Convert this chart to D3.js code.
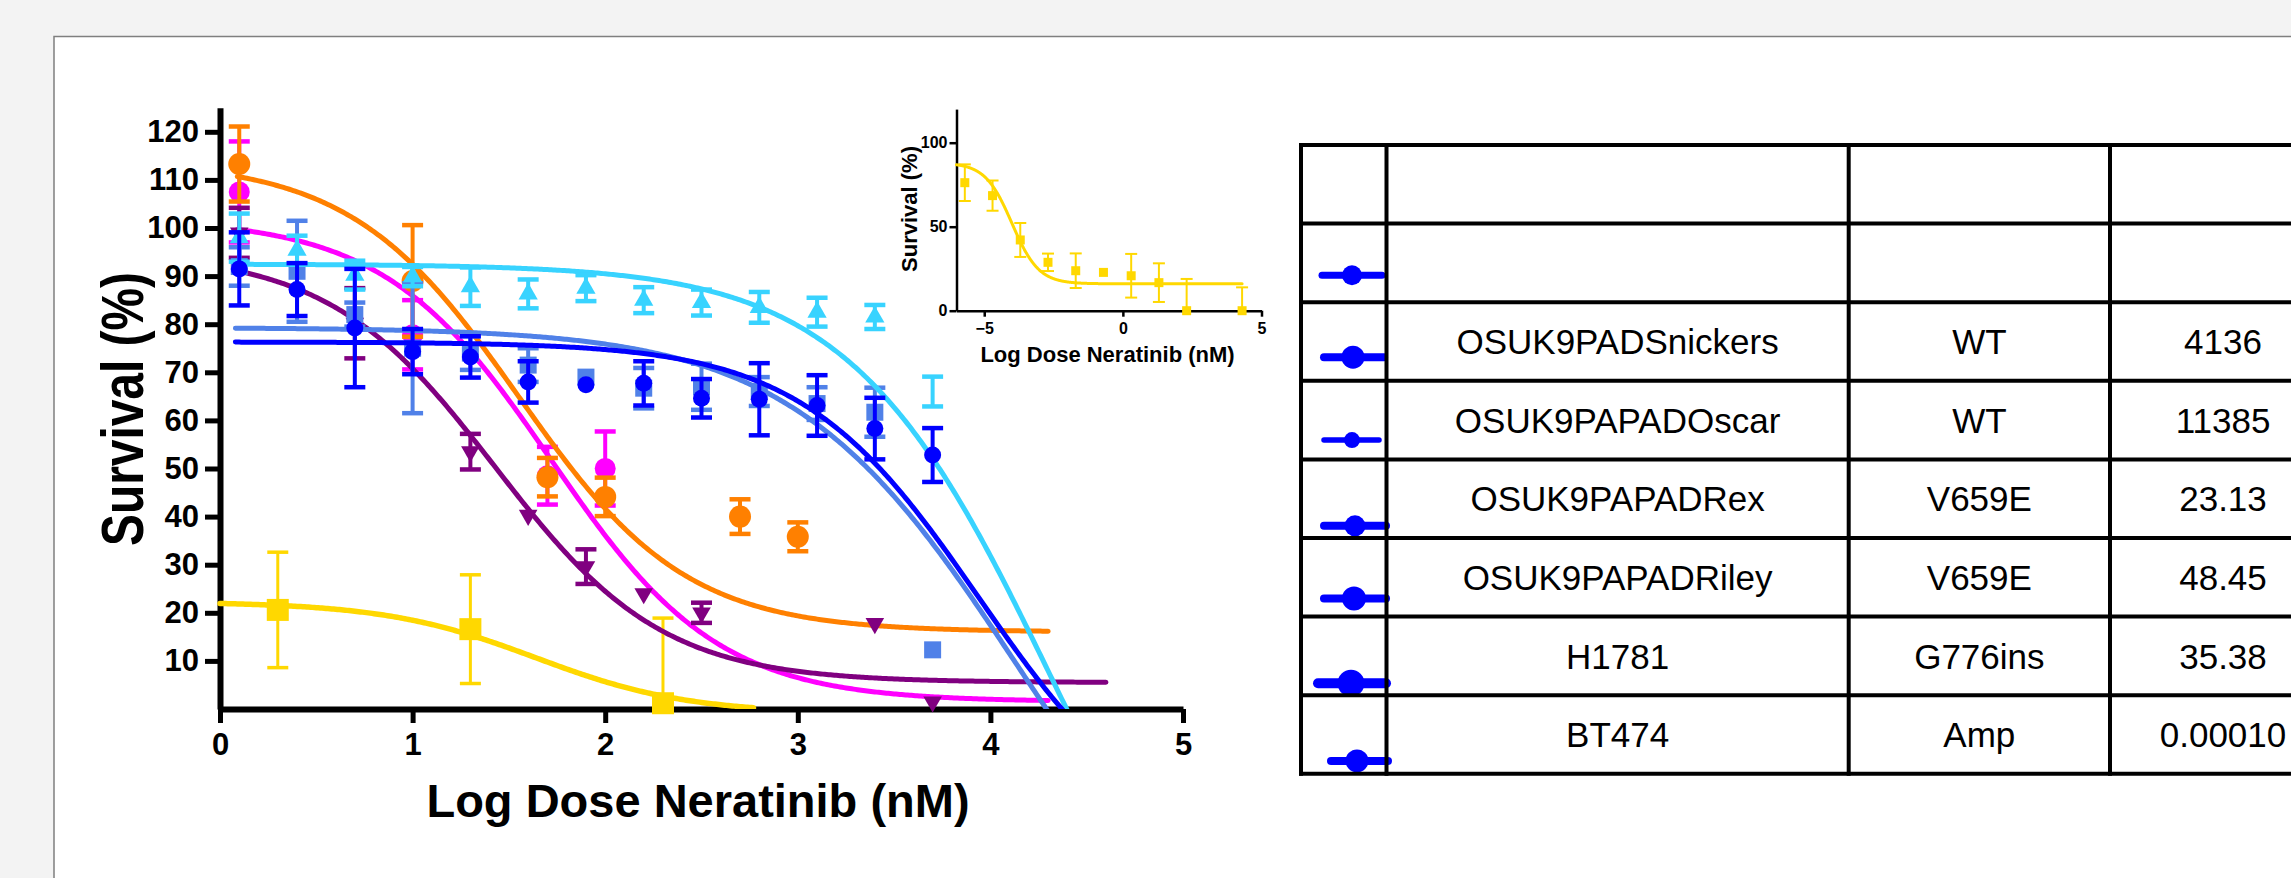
<!DOCTYPE html>
<html>
<head>
<meta charset="utf-8">
<script src="https://cdn.jsdelivr.net/npm/d3@7"></script>
<style>
html, body { margin: 0; padding: 0; background: #f3f3f3; overflow: hidden; }
svg { display: block; }
</style>
</head>
<body>
<div id="chart"></div>
<script>
// ---------------- data ----------------
// main panel, log dose (nM) / survival (%) / error
var orangeDose = [0.1, 1.0, 1.7, 2.0, 2.7, 3.0];
var orangeMean = [113.3, 89, 48.2, 44.1, 40.0, 35.8];
var orangeErr  = [7.8, 11.6, 4, 4, 3.6, 3];

var magentaDose = [0.1, 1.0, 1.7, 2.0];
var magentaMean = [107.5, 77.8, 48.5, 50];
var magentaErr  = [10.5, 7.2, 6, 7.7];

var purpleDose = [0.1, 0.7, 1.3, 1.6, 1.9, 2.2, 2.5, 3.4, 3.7];
var purpleMean = [99, 80.2, 53.5, 40.3, 29.6, 24, 20, 17.8, 1.5];
var purpleErr  = [5.2, 7.3, 3.7, 0, 3.6, 0, 2.1, 0, 0];

var cyanDose = [0.1, 0.4, 0.7, 1.0, 1.3, 1.6, 1.9, 2.2, 2.5, 2.8, 3.1, 3.4, 3.7];
var cyanMean = [98, 95.4, 90.2, 89.9, 87.8, 86.3, 87.5, 85, 84.5, 83.5, 82.5, 81.5, 66];
var cyanErr  = [5, 3, 3, 2, 4, 3, 2.7, 2.7, 2.7, 3.2, 3, 2.5, 3.1];

var cornflowerDose = [0.1, 0.4, 0.7, 1.0, 1.3, 1.6, 1.9, 2.2, 2.5, 2.8, 3.1, 3.4, 3.7];
var cornflowerMean = [92, 91, 82, 75, 74, 71.5, 69, 66.7, 67, 66, 63.5, 61.7, 12.3];
var cornflowerErr  = [4, 10.5, 2.5, 13.5, 3.5, 3.5, 0, 4.2, 4.8, 3, 3.4, 5.1, 0];

var blueDose = [0.1, 0.4, 0.7, 1.0, 1.3, 1.6, 1.9, 2.2, 2.5, 2.8, 3.1, 3.4, 3.7];
var blueMean = [91.5, 87.2, 79.2, 74.3, 73.2, 68, 67.4, 67.7, 64.6, 64.4, 63.1, 58.3, 52.8];
var blueErr  = [7.6, 5.5, 12.3, 4.7, 4.3, 4.3, 0, 4.6, 4, 7.5, 6.3, 6.4, 5.6];

var yellowDose = [0.3, 1.3, 2.3];
var yellowMean = [20.6, 16.6, 1.2];
var yellowErr  = [12, 11.3, 17.7];

// fitted curves: top, bottom, logIC50, hill, x from, x to
var orangeFit     = [114, 16, 1.55, 1.0, 0.09, 4.3];
var magentaFit    = [102, 1.5, 1.72, 1.0, 0.09, 4.3];
var purpleFit     = [95, 5.5, 1.43, 1.0, 0.1, 4.6];
var cyanFit       = [92.5, -80, 4.32, 0.83, 0.08, 4.6];
var cornflowerFit = [79.3, -60, 4.13, 0.75, 0.08, 4.6];
var blueFit       = [76.3, -30, 3.94, 0.94, 0.08, 4.6];
var yellowFit     = [22.3, -1, 1.64, 1.1, 0, 2.77];

var mainXTicks = [0, 1, 2, 3, 4, 5];
var mainYTicks = [10, 20, 30, 40, 50, 60, 70, 80, 90, 100, 110, 120];

// inset (BT474)
var insetDose = [-5.7, -4.7, -3.7, -2.7, -1.7, -0.7, 0.3, 1.3, 2.3, 4.3];
var insetMean = [76.2, 68.5, 42.1, 28.8, 23.8, 22.8, 20.8, 16.7, 0, 0];
var insetErr  = [10.9, 9, 10.1, 5.2, 10.3, 0, 13, 11.5, 18.9, 13.9];
var insetFit  = [88, 16, -4.0, 0.9, -6, 4.3];
var insetXTicks = [-5, 0, 5];
var insetYTicks = [0, 50, 100];

// table
var cellLine = ["", "", "OSUK9PADSnickers", "OSUK9PAPADOscar", "OSUK9PAPADRex", "OSUK9PAPADRiley", "H1781", "BT474"];
var mutation = ["", "", "WT", "WT", "V659E", "V659E", "G776ins", "Amp"];
var ic50     = ["", "", "4136", "11385", "23.13", "48.45", "35.38", "0.00010"];

// ---------------- drawing ----------------
var W = 2291, H = 878;
var boldFont = "'Liberation Sans', Arial, sans-serif";

var svg = d3.select("#chart").append("svg")
    .attr("width", W)
    .attr("height", H);

// page + frame
svg.append("rect").attr("width", W).attr("height", H).attr("fill", "#f3f3f3");
svg.append("rect")
    .attr("x", 54).attr("y", 36.5)
    .attr("width", W).attr("height", H)
    .attr("fill", "#ffffff")
    .attr("stroke", "#7f7f7f")
    .attr("stroke-width", 1.5);

function fourPL(p, v) {
    return p[1] + (p[0] - p[1]) / (1 + Math.pow(10, (v - p[2]) * p[3]));
}

function curvePoints(p) {
    var pts = d3.range(p[4], p[5], 0.01).map(v => [v, fourPL(p, v)]);
    pts.push([p[5], fourPL(p, p[5])]);
    return pts;
}

function styleAxis(g, lw, tickW, fontSize) {
    g.select(".domain").attr("stroke", "#000").attr("stroke-width", lw);
    g.selectAll(".tick line").attr("stroke", "#000").attr("stroke-width", tickW);
    g.selectAll(".tick text")
        .attr("fill", "#000")
        .style("font-family", boldFont)
        .style("font-weight", "bold")
        .style("font-size", fontSize + "px");
}

// error bars + markers + curve for one series
function drawSeries(root, xs, ys, clipId, s) {
    var line = d3.line().x(d => xs(d[0])).y(d => ys(d[1]));

    root.append("path")
        .datum(curvePoints(s.fit))
        .attr("clip-path", "url(#" + clipId + ")")
        .attr("d", line)
        .attr("fill", "none")
        .attr("stroke", s.color)
        .attr("stroke-width", s.curveW)
        .attr("stroke-linecap", "round");

    var pts = s.dose.map((d, i) => ({x: d, m: s.mean[i], e: s.err[i], i: i}));

    var bars = root.append("g")
        .attr("stroke", s.color)
        .attr("fill", "none");
    pts.filter(d => d.e > 0).forEach(function(d) {
        var lo = Math.max(0, d.m - d.e), hi = d.m + d.e;
        var cx = xs(d.x);
        bars.append("line")
            .attr("x1", cx).attr("x2", cx)
            .attr("y1", ys(lo)).attr("y2", ys(hi))
            .attr("stroke-width", s.barW);
        bars.append("line")
            .attr("x1", cx - s.capW / 2).attr("x2", cx + s.capW / 2)
            .attr("y1", ys(hi)).attr("y2", ys(hi))
            .attr("stroke-width", s.capT);
        if (d.m - d.e >= 0) {
            bars.append("line")
                .attr("x1", cx - s.capW / 2).attr("x2", cx + s.capW / 2)
                .attr("y1", ys(lo)).attr("y2", ys(lo))
                .attr("stroke-width", s.capT);
        }
    });

    // some symbols are not shown in the original figure (bar only)
    var hidden = s.hideMarker || [];
    var sym = d3.symbol().type(s.shape).size(s.size);
    root.append("g")
        .attr("fill", s.color)
        .selectAll("path")
        .data(pts.filter(d => hidden.indexOf(d.i) < 0))
        .join("path")
        .attr("d", sym)
        .attr("transform", d => "translate(" + xs(d.x) + "," + ys(d.m) + ")" + (s.flip ? " rotate(180)" : ""));
}

/////////////////////// main panel ///////////////////////
var x = d3.scaleLinear().domain([0, 5]).range([220, 1183]);
var y = d3.scaleLinear().domain([0, 125]).range([709, 107.75]);

svg.append("clipPath").attr("id", "mainClip")
    .append("rect")
    .attr("x", 0).attr("y", y(125))
    .attr("width", 1300).attr("height", y(0) - y(125));

var gy = svg.append("g")
    .attr("transform", "translate(" + x(0) + ",0)")
    .call(d3.axisLeft(y).tickValues(mainYTicks).tickSize(15).tickSizeOuter(0).tickPadding(6));
styleAxis(gy, 6, 5, 31);

var gx = svg.append("g")
    .attr("transform", "translate(0," + y(0) + ")")
    .call(d3.axisBottom(x).tickValues(mainXTicks).tickSize(14).tickSizeOuter(0).tickPadding(10).tickFormat(d3.format("d")));
styleAxis(gx, 6, 5, 31);

svg.append("text")
    .attr("x", 698).attr("y", 817)
    .attr("text-anchor", "middle")
    .style("font-family", boldFont)
    .style("font-weight", "bold")
    .style("font-size", "47px")
    .text("Log Dose Neratinib (nM)");

svg.append("text")
    .attr("transform", "translate(143,409) rotate(-90)")
    .attr("text-anchor", "middle")
    .attr("textLength", 274)
    .attr("lengthAdjust", "spacingAndGlyphs")
    .style("font-family", boldFont)
    .style("font-weight", "bold")
    .style("font-size", "59px")
    .text("Survival (%)");

var mainSeries = [
    {dose: yellowDose, mean: yellowMean, err: yellowErr, fit: yellowFit, color: "#FFD800",
     shape: d3.symbolSquare, size: 22 * 22, curveW: 5.5, barW: 3, capW: 21, capT: 3.5},
    {dose: magentaDose, mean: magentaMean, err: magentaErr, fit: magentaFit, color: "#FF00FF",
     shape: d3.symbolCircle, size: Math.PI * 10.5 * 10.5, curveW: 5, barW: 4, capW: 21, capT: 4.5},
    {dose: orangeDose, mean: orangeMean, err: orangeErr, fit: orangeFit, color: "#FF8000",
     shape: d3.symbolCircle, size: Math.PI * 11 * 11, curveW: 5, barW: 4, capW: 21, capT: 4.5},
    {dose: purpleDose, mean: purpleMean, err: purpleErr, fit: purpleFit, color: "#800080",
     shape: d3.symbolTriangle, flip: true, size: 150, curveW: 5, barW: 4, capW: 21, capT: 4.5},
    {dose: cornflowerDose, mean: cornflowerMean, err: cornflowerErr, fit: cornflowerFit, color: "#5081E8",
     shape: d3.symbolSquare, size: 17 * 17, curveW: 5, barW: 4, capW: 21, capT: 4.5},
    {dose: cyanDose, mean: cyanMean, err: cyanErr, fit: cyanFit, color: "#38D3FF",
     shape: d3.symbolTriangle, size: 160, curveW: 5, barW: 4, capW: 21, capT: 4.5, hideMarker: [12]},
    {dose: blueDose, mean: blueMean, err: blueErr, fit: blueFit, color: "#0000FF",
     shape: d3.symbolCircle, size: Math.PI * 8.5 * 8.5, curveW: 5, barW: 4, capW: 21, capT: 4.5}
];
var mainG = svg.append("g");
mainSeries.forEach(s => drawSeries(mainG, x, y, "mainClip", s));

/////////////////////// inset ///////////////////////
var xi = d3.scaleLinear().domain([-6, 5]).range([956.5, 1261.5]);
var yi = d3.scaleLinear().domain([0, 120]).range([310.7, 109.1]);

svg.append("clipPath").attr("id", "insetClip")
    .append("rect")
    .attr("x", 900).attr("y", yi(120))
    .attr("width", 400).attr("height", yi(0) - yi(120));

var giy = svg.append("g")
    .attr("transform", "translate(" + xi(-6) + ",0)")
    .call(d3.axisLeft(yi).tickValues(insetYTicks).tickSize(7).tickSizeOuter(0).tickPadding(2));
styleAxis(giy, 2.5, 2.5, 16);

var gix = svg.append("g")
    .attr("transform", "translate(0," + yi(0) + ")")
    .call(d3.axisBottom(xi).tickValues(insetXTicks).tickSize(6).tickPadding(6).tickSizeOuter(0));
styleAxis(gix, 2.5, 2.5, 16);

svg.append("text")
    .attr("x", 1107.5).attr("y", 361.5)
    .attr("text-anchor", "middle")
    .style("font-family", boldFont)
    .style("font-weight", "bold")
    .style("font-size", "22px")
    .text("Log Dose Neratinib (nM)");

svg.append("text")
    .attr("transform", "translate(917,209) rotate(-90)")
    .attr("text-anchor", "middle")
    .style("font-family", boldFont)
    .style("font-weight", "bold")
    .style("font-size", "22px")
    .text("Survival (%)");

drawSeries(svg.append("g"), xi, yi, "insetClip",
    {dose: insetDose, mean: insetMean, err: insetErr, fit: insetFit, color: "#FFD800",
     shape: d3.symbolSquare, size: 9 * 9, curveW: 3, barW: 2, capW: 12, capT: 2});

/////////////////////// table ///////////////////////
var colX = [1301, 1386.5, 1848.7, 2110, 2336];
var rowY = d3.range(9).map(i => 145 + i * 78.6);
var tableG = svg.append("g");

// per-row legend marker look (dy from row top, dot radius, line width, line ends)
var legendStyle = [
    null,
    {dy: 51.7, r: 10, lw: 7, x0: 1322, x1: 1382, cx: 1352},
    {dy: 55, r: 11.5, lw: 8, x0: 1324, x1: 1384, cx: 1353},
    {dy: 59.3, r: 8, lw: 5.5, x0: 1324, x1: 1379, cx: 1352},
    {dy: 66.4, r: 10.5, lw: 8, x0: 1324, x1: 1386, cx: 1355},
    {dy: 60.6, r: 12, lw: 8, x0: 1324, x1: 1386, cx: 1354},
    {dy: 66.6, r: 13.5, lw: 10, x0: 1318, x1: 1386, cx: 1351},
    {dy: 65.7, r: 11.5, lw: 8, x0: 1331, x1: 1388, cx: 1357}
];

legendStyle.forEach(function(st, i) {
    if (!st) return;
    var cy = rowY[i] + st.dy;
    tableG.append("line")
        .attr("x1", st.x0).attr("x2", st.x1)
        .attr("y1", cy).attr("y2", cy)
        .attr("stroke", "#0000FF")
        .attr("stroke-width", st.lw)
        .attr("stroke-linecap", "round");
    tableG.append("circle")
        .attr("cx", st.cx).attr("cy", cy)
        .attr("r", st.r)
        .attr("fill", "#0000FF");
});

rowY.forEach(function(ry) {
    tableG.append("line")
        .attr("x1", colX[0] - 2).attr("x2", colX[4])
        .attr("y1", ry).attr("y2", ry)
        .attr("stroke", "#000").attr("stroke-width", 4);
});
colX.forEach(function(cx) {
    tableG.append("line")
        .attr("x1", cx).attr("x2", cx)
        .attr("y1", rowY[0] - 2).attr("y2", rowY[8] + 2)
        .attr("stroke", "#000").attr("stroke-width", 4);
});

var textCols = [cellLine, mutation, ic50];
textCols.forEach(function(col, c) {
    var cx = (colX[c + 1] + colX[c + 2]) / 2;
    if (c === 2) cx = 2223;
    col.forEach(function(t, r) {
        if (!t) return;
        tableG.append("text")
            .attr("x", cx)
            .attr("y", (rowY[r] + rowY[r + 1]) / 2)
            .attr("dy", "0.36em")
            .attr("text-anchor", "middle")
            .style("font-family", "'Liberation Sans', Arial, sans-serif")
            .style("font-size", "35px")
            .attr("fill", "#000")
            .text(t);
    });
});
</script>
</body>
</html>
